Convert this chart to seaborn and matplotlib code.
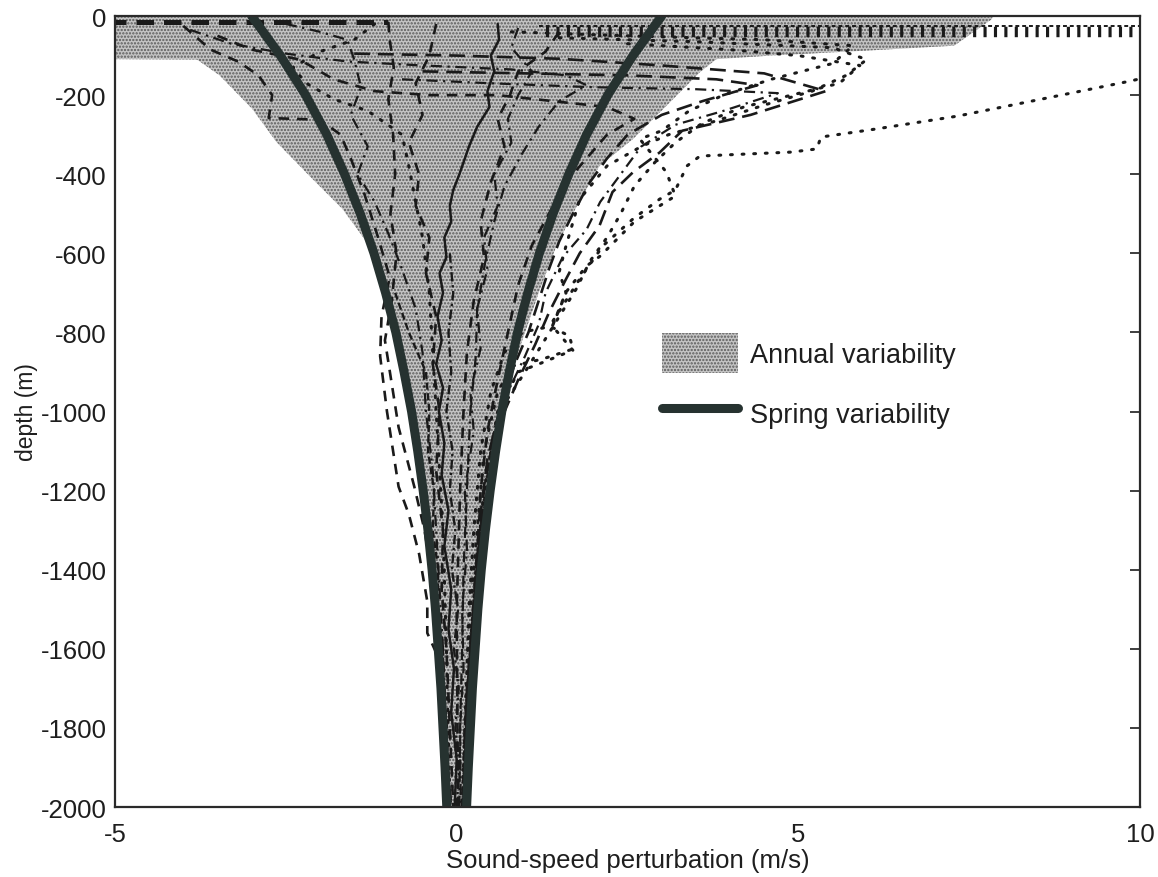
import matplotlib
matplotlib.use("Agg")
import matplotlib.pyplot as plt
from matplotlib.patches import Patch
from matplotlib.lines import Line2D
import seaborn as sns
import pandas as pd
import numpy as np

# ---------------------------------------------------------------- data
# depth grid for the spring-variability envelope (m) and its half-width (m/s)
spring_depth = [0, -100, -200, -300, -400, -500, -600, -700, -800, -900, -1000,
                -1100, -1200, -1300, -1400, -1500, -1600, -1700, -1800, -1900, -2000]
spring_std = [3.0, 2.58, 2.21, 1.90, 1.64, 1.41, 1.21, 1.04, 0.89, 0.77, 0.66,
              0.57, 0.49, 0.42, 0.36, 0.31, 0.27, 0.23, 0.20, 0.17, 0.145]

# annual variability band: left and right edges
annual_left_depth = [0, -109, -110, -150, -235, -318, -405, -488, -571, -657,
                     -750, -900, -1000, -1200, -1400, -1600, -1800, -2000]
annual_left = [-5.0, -5.0, -3.8, -3.47, -2.99, -2.64, -2.15, -1.67, -1.32, -1.14,
               -0.95, -0.75, -0.62, -0.45, -0.33, -0.25, -0.18, -0.12]
annual_right_depth = [0, -8, -75, -88, -100, -109, -142, -227, -311, -379, -480,
                      -581, -690, -800, -900, -1000, -1200, -1400, -1600, -1800, -2000]
annual_right = [7.85, 7.83, 7.28, 5.93, 4.6, 3.8, 3.56, 3.07, 2.58, 2.09, 1.76,
                1.46, 1.22, 1.0, 0.8, 0.62, 0.46, 0.33, 0.24, 0.17, 0.12]

# individual sound-speed perturbation profiles: (perturbation m/s, depth m)
prof_surface = [(-5.5, -15), (-1.0, -15)]
prof_a = [(-1.0, -15), (-0.98, -60), (-0.92, -130), (-1.0, -210), (-0.93, -300),
          (-0.9, -400), (-0.97, -500), (-0.88, -600), (-0.95, -720), (-1.05, -820),
          (-0.95, -930), (-0.85, -1040), (-0.62, -1190), (-0.47, -1300),
          (-0.38, -1400), (-0.3, -1500), (-0.22, -1650), (-0.15, -1850), (-0.1, -2000)]
prof_b = [(-4.0, -25), (-3.8, -55), (-3.6, -85), (-3.2, -115), (-2.9, -150),
          (-2.7, -200), (-2.75, -258), (-2.0, -262), (-1.7, -300), (-1.55, -360),
          (-1.35, -450), (-1.15, -560), (-0.98, -660), (-1.1, -760), (-1.12, -860),
          (-1.02, -1000), (-0.85, -1190), (-0.7, -1260), (-0.55, -1360),
          (-0.43, -1480), (-0.43, -1560), (-0.3, -1610), (-0.22, -1750),
          (-0.14, -1880), (-0.08, -2000)]
prof_c = [(-3.9, -35), (-3.3, -70), (-2.5, -95), (-1.6, -115), (-0.5, -125),
          (0.8, -135), (1.6, -150), (1.9, -175), (1.5, -215), (1.2, -280),
          (0.95, -350), (0.7, -430), (0.55, -520), (0.42, -620), (0.3, -740),
          (0.28, -860), (0.2, -1000), (0.15, -1200), (0.1, -1400), (0.08, -1600),
          (0.05, -1800), (0.04, -2000)]
prof_d = [(-3.5, -50), (-3.0, -85), (-2.3, -110), (-1.8, -160), (-1.2, -190),
          (-0.4, -200), (0.6, -200), (1.4, -215), (2.2, -230), (2.6, -260),
          (2.2, -300), (1.9, -360), (1.6, -420), (1.35, -500), (1.1, -580),
          (0.9, -680), (0.75, -800), (0.6, -920), (0.45, -1050), (0.35, -1200),
          (0.3, -1400), (0.2, -1600), (0.12, -1800), (0.1, -2000)]
prof_e = [(-1.5, -95), (0.0, -100), (1.5, -108), (3.0, -125), (4.5, -145),
          (5.4, -190), (4.3, -250), (3.3, -290), (2.97, -345), (2.58, -395),
          (2.28, -445), (2.09, -530), (1.8, -600), (1.6, -665), (1.35, -750),
          (1.15, -830), (0.9, -920), (0.7, -1000), (0.5, -1150), (0.35, -1300),
          (0.25, -1500), (0.15, -1700), (0.1, -2000)]
prof_f = [(-0.8, -160), (0.5, -170), (2.0, -180), (3.5, -185), (4.7, -195),
          (3.9, -240), (3.2, -275), (2.7, -330), (2.4, -400), (2.1, -470),
          (1.9, -540), (1.55, -610), (1.3, -700), (1.2, -780), (1.0, -860),
          (0.75, -950), (0.55, -1050), (0.4, -1200), (0.3, -1400), (0.2, -1600),
          (0.15, -1800), (0.1, -2000)]
prof_g = [(12.0, -80), (9.84, -165), (8.56, -210), (7.33, -253), (6.12, -286),
          (5.33, -306), (5.27, -336), (4.9, -344), (3.56, -354), (3.37, -379),
          (3.2, -440), (2.97, -463), (2.58, -513), (2.14, -581), (1.8, -665),
          (1.55, -733), (1.36, -784), (1.65, -809), (1.7, -842), (1.26, -867),
          (0.82, -885), (0.6, -950), (0.4, -1100), (0.3, -1300), (0.2, -1500),
          (0.12, -1800), (0.1, -2000)]
prof_h = [(1.5, -55), (3.5, -65), (5.5, -80), (6.0, -110), (5.7, -150),
          (5.2, -190), (4.5, -225), (3.8, -265), (3.1, -300), (2.7, -330),
          (2.2, -379), (1.8, -463), (1.6, -581), (1.5, -647), (1.6, -700),
          (1.4, -784), (0.97, -799), (0.7, -850), (0.5, -950), (0.35, -1100),
          (0.25, -1300), (0.18, -1500), (0.12, -1800), (0.08, -2000)]
prof_i = [(0.8, -40), (2.5, -50), (4.5, -60), (5.8, -75), (5.5, -120),
          (4.6, -160), (3.9, -200), (3.4, -240), (3.0, -290), (2.68, -311),
          (3.07, -395), (3.2, -455), (2.6, -520), (2.1, -607), (1.9, -632),
          (1.6, -698), (1.4, -784), (1.7, -845), (1.2, -880), (0.9, -900),
          (0.6, -1000), (0.4, -1200), (0.28, -1400), (0.2, -1600), (0.12, -1800),
          (0.08, -2000)]
prof_j = [(-2.5, -20), (-2.0, -40), (-1.6, -60), (-1.5, -110), (-1.4, -180),
          (-1.55, -250), (-1.3, -330), (-1.45, -400), (-1.2, -470), (-1.0, -550),
          (-0.8, -640), (-0.6, -740), (-0.5, -850), (-0.45, -1000), (-0.35, -1150),
          (-0.3, -1300), (-0.25, -1450), (-0.2, -1600), (-0.15, -1800),
          (-0.12, -2000)]
prof_k = [(-0.3, -20), (-0.4, -100), (-0.6, -170), (-0.5, -250), (-0.7, -320),
          (-0.55, -400), (-0.6, -480), (-0.4, -560), (-0.45, -650), (-0.3, -760),
          (-0.35, -880), (-0.25, -1000), (-0.3, -1150), (-0.2, -1300),
          (-0.22, -1450), (-0.15, -1600), (-0.1, -1800), (-0.05, -2000)]
prof_l = [(0.6, -20), (0.62, -60), (0.5, -100), (0.55, -140), (0.45, -190),
          (0.48, -230), (0.3, -280), (0.18, -330), (0.1, -370), (0.04, -400),
          (-0.05, -440), (-0.1, -480), (-0.08, -520), (-0.18, -560), (-0.15, -610),
          (-0.25, -650), (-0.2, -700), (-0.28, -760), (-0.22, -820), (-0.3, -880),
          (-0.2, -940), (-0.26, -1000), (-0.18, -1080), (-0.22, -1160),
          (-0.12, -1250), (-0.18, -1340), (-0.08, -1450), (-0.12, -1550),
          (-0.04, -1650), (-0.08, -1760), (0.0, -1880), (-0.03, -2000)]
prof_m = [(0.9, -30), (0.8, -80), (1.1, -140), (0.9, -200), (0.75, -260),
          (0.8, -320), (0.55, -400), (0.6, -480), (0.4, -560), (0.45, -640),
          (0.3, -740), (0.35, -840), (0.2, -950), (0.25, -1050), (0.12, -1200),
          (0.15, -1350), (0.08, -1500), (0.1, -1650), (0.05, -1800), (0.06, -2000)]
prof_n = [(1.5, -40), (1.3, -90), (0.9, -140), (0.78, -200), (0.6, -260),
          (0.7, -330), (0.5, -420), (0.35, -520), (0.4, -610), (0.25, -720),
          (0.15, -850), (0.1, -1000), (0.05, -1200), (0.0, -1500), (0.02, -2000)]
prof_o = [(-1.2, -20), (-1.5, -60), (-2.0, -90), (-2.4, -130), (-2.2, -170),
          (-1.8, -210), (-1.3, -240), (-0.8, -300), (-0.7, -380), (-0.6, -470),
          (-0.5, -560), (-0.4, -700), (-0.35, -850), (-0.3, -1000), (-0.2, -1300),
          (-0.15, -1600), (-0.1, -2000)]
prof_p = [(-0.5, -140), (1.0, -145), (2.5, -150), (3.8, -160), (4.4, -175),
          (3.6, -215), (3.0, -250), (2.5, -300), (2.2, -360), (1.95, -420),
          (1.7, -500), (1.5, -570), (1.35, -640), (1.2, -720), (1.05, -800),
          (0.85, -880), (0.65, -980), (0.45, -1120), (0.32, -1300),
          (0.22, -1550), (0.14, -1800), (0.1, -2000)]
prof_q = [(2.5, -70), (4.0, -85), (5.0, -100), (5.9, -125), (5.6, -170),
          (4.9, -200), (4.2, -230), (3.6, -270), (3.2, -320), (2.9, -370),
          (2.6, -430), (2.4, -500), (2.2, -560), (1.95, -620), (1.75, -690),
          (1.5, -760), (1.25, -830), (1.0, -900), (0.7, -980), (0.5, -1100),
          (0.35, -1300), (0.2, -1600), (0.1, -2000)]
prof_r = [(-0.9, -700), (-0.7, -800), (-0.45, -900), (-0.4, -1000),
          (-0.42, -1100), (-0.33, -1200), (-0.35, -1300), (-0.27, -1400),
          (-0.28, -1500), (-0.2, -1600), (-0.2, -1700), (-0.14, -1800),
          (-0.13, -1900), (-0.08, -2000)]
prof_s = [(-0.1, -600), (-0.05, -700), (-0.12, -800), (-0.08, -900),
          (-0.15, -1000), (-0.06, -1100), (-0.1, -1200), (-0.02, -1300),
          (-0.07, -1400), (0.02, -1500), (-0.04, -1600), (0.03, -1700),
          (-0.02, -1800), (0.04, -1900), (0.0, -2000)]
# near-surface profile running off the right edge
prof_top_edge = [(1.2, -25), (10.5, -25)]
prof_top_bars = [(1.3, -40), (10.5, -40)]

x_ticks = [-5, 0, 5, 10]
y_ticks = [0, -200, -400, -600, -800, -1000, -1200, -1400, -1600, -1800, -2000]

# ---------------------------------------------------------------- style
sns.set_theme(style="white")
plt.rcParams["font.family"] = ["Liberation Sans", "DejaVu Sans"]
plt.rcParams["hatch.linewidth"] = 1.1

INK = "#1a1a1a"
THICK = "#263230"
FILL = "#c4c4c4"
DOTS = "#5a5a5a"
TXT = "#1e1e1e"

fig = plt.figure(figsize=(11.58, 8.78), dpi=100)
ax = fig.add_axes([0.0993, 0.0797, 0.8852, 0.9009])

# annual variability band
band_depth = sorted(set(annual_left_depth) | set(annual_right_depth), reverse=True)
band = pd.DataFrame({"depth": band_depth})
band["lo"] = np.interp(-band["depth"], [-d for d in annual_left_depth], annual_left)
band["hi"] = np.interp(-band["depth"], [-d for d in annual_right_depth], annual_right)
ax.fill_betweenx(band["depth"], band["lo"], band["hi"], facecolor=FILL,
                 edgecolor=DOTS, hatch=".....", linewidth=0, zorder=1)


def draw(profile, **kw):
    df = pd.DataFrame(profile, columns=["dc", "depth"])
    sns.lineplot(data=df, x="dc", y="depth", sort=False, estimator=None,
                 ax=ax, color=INK, zorder=3, **kw)


dashed = dict(lw=1.9, linestyle=(0, (4, 3)))
longdash = dict(lw=1.9, linestyle=(0, (6, 3)))
dashdot = dict(lw=1.6, linestyle=(0, (5, 2.5, 1, 2.5)))
dotted = dict(lw=2.2, linestyle=(0, (0.6, 3.2)), dash_capstyle="round")

draw(prof_surface, lw=3.6, linestyle=(0, (3.5, 2)))
draw(prof_a, **dashed)
draw(prof_b, **dashed)
draw(prof_c, **dashdot)
draw(prof_d, **dashed)
draw(prof_e, **longdash)
draw(prof_f, **dashdot)
draw(prof_g, **dotted)
draw(prof_h, **dotted)
draw(prof_i, **dotted)
draw(prof_j, **dashdot)
draw(prof_k, **dashed)
draw(prof_l, lw=1.8)
draw(prof_m, **dashdot)
draw(prof_n, **dashed)
draw(prof_o, **dotted)
draw(prof_p, **longdash)
draw(prof_q, **dotted)
draw(prof_r, lw=1.7, linestyle=(0, (3, 1.5)))
draw(prof_s, lw=1.7, linestyle=(0, (4, 1.5, 1, 1.5)))
draw(prof_top_edge, lw=1.4, linestyle=(0, (2, 1.5)))
draw(prof_top_bars, lw=7.5, linestyle=(0, (0.3, 0.7)), dash_capstyle="butt")

# spring variability envelope
spring = pd.DataFrame({"depth": spring_depth, "std": spring_std})
spring["neg"] = -spring["std"]
sns.lineplot(data=spring, x="std", y="depth", sort=False, estimator=None,
             ax=ax, color=THICK, lw=6.5, zorder=4)
sns.lineplot(data=spring, x="neg", y="depth", sort=False, estimator=None,
             ax=ax, color=THICK, lw=6.5, zorder=4)

ax.set_xlim(-5, 10)
ax.set_ylim(-2000, 0)
ax.set_xticks(x_ticks)
ax.set_yticks(y_ticks)
ax.set_xticklabels([str(v) for v in x_ticks])
ax.set_yticklabels([str(v) for v in y_ticks])
ax.tick_params(direction="in", length=7, width=1.2, colors=TXT,
               labelsize=18.5, top=True, right=True, pad=6)
ax.tick_params(axis="x", pad=11)
for s in ax.spines.values():
    s.set_color("#2a2a2a")
    s.set_linewidth(1.6)
    s.set_zorder(5)

ax.set_xlabel("Sound-speed perturbation (m/s)", fontsize=18.5, color=TXT, labelpad=1)
ax.set_ylabel("depth (m)", fontsize=16.5, color=TXT, labelpad=2)

handles = [Patch(facecolor=FILL, edgecolor=DOTS, hatch=".....", linewidth=0,
                 label="Annual variability"),
           Line2D([0], [0], color=THICK, lw=6.5, label="Spring variability")]
ax.legend(handles=handles, loc="upper left", bbox_to_anchor=(0.523, 0.613),
          frameon=False, fontsize=19.5, handlelength=2.8, handleheight=1.9,
          handletextpad=0.45, labelspacing=0.75, borderaxespad=0,
          labelcolor=TXT)

fig.savefig("out.png", dpi=100)
